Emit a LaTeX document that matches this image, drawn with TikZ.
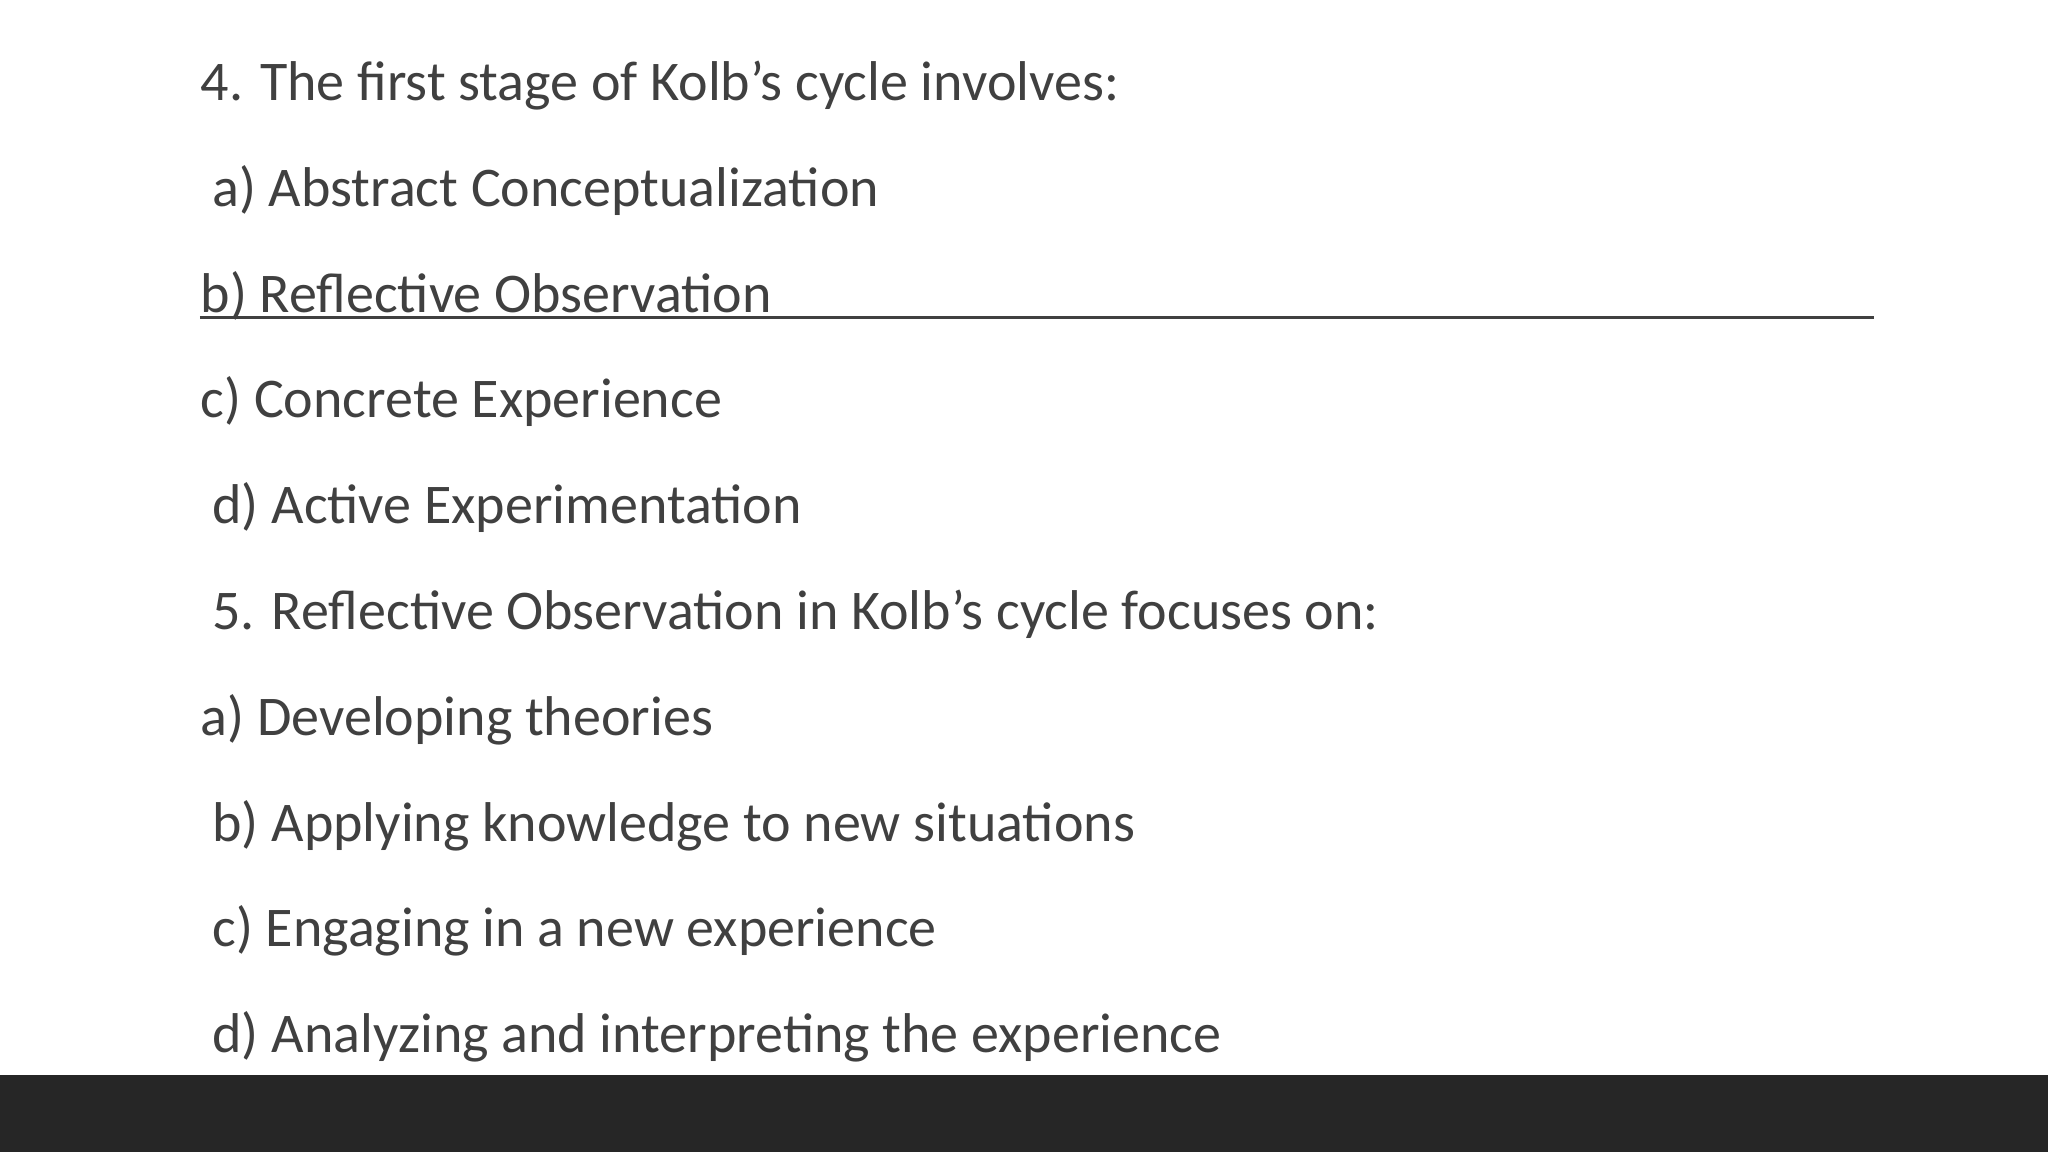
\documentclass[tikz,border=0pt]{standalone}
\usepackage{fontspec}
\setmainfont{Carlito}
\definecolor{txt}{HTML}{404040}
\definecolor{bar}{HTML}{262626}
\begin{document}
\begin{tikzpicture}[x=0.01cm,y=-0.01cm,
  line/.style={anchor=base west,inner sep=0pt,text=txt,font=\fontsize{12.2pt}{14pt}\selectfont}]
\useasboundingbox (0,0) rectangle (1568,882);
\fill[white] (0,0) rectangle (1568,882);
\fill[bar] (0,823) rectangle (1568,882);
\node[line] (l1) at (153,77) {4. The first stage of Kolb's cycle involves:};
\node[line] (l2) at (162,158) {a) Abstract Conceptualization};
\node[line] (l3) at (153,239) {b) Reflective Observation};
\node[line] (l4) at (153,320) {c) Concrete Experience};
\node[line] (l5) at (162,401) {d) Active Experimentation};
\node[line] (l6) at (162,482) {5. Reflective Observation in Kolb's cycle focuses on:};
\node[line] (l7) at (153,563) {a) Developing theories};
\node[line] (l8) at (162,644) {b) Applying knowledge to new situations};
\node[line] (l9) at (162,725) {c) Engaging in a new experience};
\node[line] (l10) at (162,806) {d) Analyzing and interpreting the experience};
\coordinate (u1) at (153,243);
\coordinate (u2) at (1435,243);
\draw[txt,line width=0.7pt] (u1) -- (u2);
\end{tikzpicture}
\end{document}
